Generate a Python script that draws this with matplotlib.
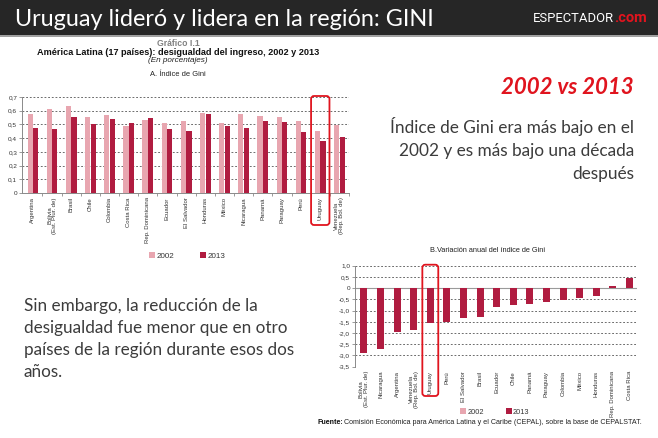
import matplotlib
matplotlib.use("Agg")
import matplotlib.pyplot as plt
from matplotlib.patches import Rectangle, FancyBboxPatch, Patch
from matplotlib.transforms import IdentityTransform
import numpy as np

# ---------------- data ----------------
countries_a = ["Argentina", "Bolivia\n(Est. Plur. de)", "Brasil", "Chile", "Colombia",
               "Costa Rica", "Rep. Dominicana", "Ecuador", "El Salvador", "Honduras",
               "México", "Nicaragua", "Panamá", "Paraguay", "Perú", "Uruguay",
               "Venezuela\n(Rep. Bol. de)"]
gini_2002 = [0.578, 0.612, 0.634, 0.554, 0.566, 0.486, 0.535, 0.510, 0.523, 0.586,
             0.513, 0.576, 0.564, 0.557, 0.523, 0.450, 0.498]
gini_2013 = [0.474, 0.469, 0.554, 0.506, 0.537, 0.510, 0.544, 0.469, 0.452, 0.574,
             0.489, 0.476, 0.527, 0.518, 0.442, 0.379, 0.406]

countries_b = ["Bolivia\n(Est. Plur. de)", "Nicaragua", "Argentina", "Venezuela\n(Rep. Bol. de)",
               "Uruguay", "Perú", "El Salvador", "Brasil", "Ecuador", "Chile", "Panamá",
               "Paraguay", "Colombia", "México", "Honduras", "Rep. Dominicana", "Costa Rica"]
var_anual = [-2.90, -2.71, -1.94, -1.85, -1.57, -1.51, -1.33, -1.30, -0.84, -0.76,
             -0.69, -0.60, -0.54, -0.46, -0.33, 0.10, 0.43]

yticks_a = [0, 0.1, 0.2, 0.3, 0.4, 0.5, 0.6, 0.7]
ytick_labels_a = ["0", "0,1", "0,2", "0,3", "0,4", "0,5", "0,6", "0,7"]
yticks_b = [1.0, 0.5, 0.0, -0.5, -1.0, -1.5, -2.0, -2.5, -3.0, -3.5]
ytick_labels_b = ["1,0", "0,5", "0", "-0,5", "-1,0", "-1,5", "-2,0", "-2,5", "-3,0", "-3,5"]
legend_labels = ["2002", "2013"]
highlight = "Uruguay"

# ---------------- style ----------------
W, H = 658, 438
LIGHT = "#e8a6b0"
DARK = "#b01c40"
RED = "#e0141e"
TXT = "#3c3c3c"
SLIDE_FONT = ["Lato", "DejaVu Sans"]
CHART_FONT = ["Liberation Sans", "DejaVu Sans"]

def fx(x):
    return x / W

def fy(y):
    return 1 - y / H

fig = plt.figure(figsize=(W / 100, H / 100), dpi=100)
fig.patch.set_facecolor("white")

# header bar
fig.add_artist(Rectangle((0, fy(35)), 1, 35 / H, transform=fig.transFigure,
                         facecolor="#262626", edgecolor="none"))
fig.add_artist(Rectangle((0, fy(37)), 1, 2 / H, transform=fig.transFigure,
                         facecolor="#a0a0a0", edgecolor="none"))
fig.text(fx(15), fy(19), "Uruguay lideró y lidera en la región: GINI", color="white",
         fontsize=16.8, va="center", ha="left", family=SLIDE_FONT)
fig.text(fx(614), fy(18), "ESPECTADOR", color="white", fontsize=9.4, va="center",
         ha="right", family=["Roboto", "DejaVu Sans"])
fig.text(fx(614), fy(18), ".com", color=RED, fontsize=10.5, va="center", ha="left",
         fontweight="bold", family=["Roboto", "DejaVu Sans"])

# chart A header
fig.text(fx(178), fy(43), "Gráfico I.1", fontsize=6.2, color="#808080", ha="center",
         va="center", fontweight="bold", family=CHART_FONT)
fig.text(fx(178), fy(52.5), "América Latina (17 países): desigualdad del ingreso, 2002 y 2013",
         fontsize=6.6, color="#111111", ha="center", va="center", fontweight="bold",
         family=CHART_FONT)
fig.text(fx(178), fy(61), "(En porcentajes)", fontsize=5.9, color="#222222", ha="center",
         va="center", fontstyle="italic", family=CHART_FONT)
fig.text(fx(178), fy(75), "A. Índice de Gini", fontsize=5.4, color="#222222", ha="center",
         va="center", family=CHART_FONT)


def style_axes(ax):
    for s in ["top", "right"]:
        ax.spines[s].set_visible(False)
    ax.spines["left"].set_color("#8a8a8a")
    ax.spines["left"].set_linewidth(0.7)
    ax.spines["bottom"].set_color("#8a8a8a")
    ax.spines["bottom"].set_linewidth(0.7)
    ax.tick_params(axis="y", length=2, width=0.6, color="#8a8a8a", labelsize=4.6,
                   labelcolor="#333333", pad=1.5)
    ax.set_axisbelow(True)
    ax.yaxis.grid(True, color="#555555", linewidth=0.6, linestyle=(0, (2.2, 2.2)))
    for lbl in ax.get_yticklabels():
        lbl.set_family(CHART_FONT)


# ---------------- chart A ----------------
axa = fig.add_axes([fx(22), fy(193), 327 / W, 96 / H])
xa = np.arange(len(countries_a))
bw = 0.27
axa.bar(xa - bw / 2 - 0.01, gini_2002, width=bw, color=LIGHT, zorder=2)
axa.bar(xa + bw / 2 + 0.01, gini_2013, width=bw, color=DARK, zorder=2)
axa.set_xlim(-0.57, len(countries_a) - 0.57)
axa.set_ylim(0, 0.7)
axa.set_yticks(yticks_a)
axa.set_yticklabels(ytick_labels_a)
style_axes(axa)
axa.set_xticks(xa)
axa.set_xticklabels(countries_a, rotation=90, fontsize=4.3, color="#333333",
                    va="top", ha="center", family=CHART_FONT, linespacing=1.0)
axa.tick_params(axis="x", which="major", length=0, pad=3)
axa.set_xticks(xa + 0.5, minor=True)
axa.tick_params(axis="x", which="minor", length=2, width=0.6, color="#8a8a8a")

leg_handles = [Patch(facecolor=LIGHT, edgecolor="none"), Patch(facecolor=DARK, edgecolor="none")]
fig.legend(leg_handles, legend_labels, loc="center", bbox_to_anchor=(fx(187), fy(256)),
           bbox_transform=fig.transFigure, ncol=2, frameon=False,
           prop={"family": CHART_FONT, "size": 5.8}, handlelength=0.75, handleheight=0.75,
           handletextpad=0.2, columnspacing=3.2, labelcolor="#333333")

# ---------------- chart B ----------------
fig.text(fx(488), fy(250), "B.Variación anual del índice de Gini", fontsize=5.3,
         color="#222222", ha="center", va="center", family=CHART_FONT)
axb = fig.add_axes([fx(355), fy(366.7), 282 / W, 101 / H])
xb = np.arange(len(countries_b))
axb.bar(xb, var_anual, width=0.42, color=DARK, zorder=2)
axb.set_xlim(-0.54, len(countries_b) - 0.54)
axb.set_ylim(-3.5, 1.0)
axb.set_yticks(yticks_b)
axb.set_yticklabels(ytick_labels_b)
style_axes(axb)
axb.spines["bottom"].set_visible(False)
axb.axhline(0, color="#9a9a9a", linewidth=0.8, zorder=1)
axb.set_xticks(xb)
axb.set_xticklabels(countries_b, rotation=90, fontsize=4.3, color="#333333",
                    va="top", ha="center", family=CHART_FONT, linespacing=1.0)
axb.tick_params(axis="x", which="major", length=0, pad=3)

fig.legend(leg_handles, legend_labels, loc="center", bbox_to_anchor=(fx(495), fy(412)),
           bbox_transform=fig.transFigure, ncol=2, frameon=False,
           prop={"family": CHART_FONT, "size": 5.3}, handlelength=0.75, handleheight=0.75,
           handletextpad=0.2, columnspacing=3.0, labelcolor="#333333")

t1 = fig.text(fx(318), fy(426), "Fuente:", fontsize=5.1, color="#111111", fontweight="bold",
              ha="left", va="bottom", family=CHART_FONT)
fig.add_artist(matplotlib.text.Annotation(
    "Comisión Económica para América Latina y el Caribe (CEPAL), sobre la base de CEPALSTAT.",
    xy=(1, 0), xycoords=t1, va="bottom", ha="left", fontsize=5.1, color="#222222",
    family=CHART_FONT))


# ---------------- highlight boxes ----------------
def highlight_box(ax, cats, bottom_px):
    idx = [c.split("\n")[0] for c in cats].index(highlight)
    x0 = ax.transData.transform((idx - 0.48, 0))[0]
    x1 = ax.transData.transform((idx + 0.48, 0))[0]
    ytop = ax.transAxes.transform((0, 1))[1] + 1
    ybot = H - bottom_px
    box = FancyBboxPatch((x0, ybot), x1 - x0, ytop - ybot,
                         boxstyle="round,pad=0,rounding_size=3", transform=IdentityTransform(),
                         facecolor="none", edgecolor=RED, linewidth=1.3, zorder=10)
    fig.add_artist(box)


highlight_box(axa, countries_a, 225)
highlight_box(axb, countries_b, 396)

# ---------------- slide texts ----------------
fig.text(fx(634), fy(94), "2002 vs 2013", color=RED, fontsize=16, fontweight="bold",
         fontstyle="italic", ha="right", va="baseline", family=SLIDE_FONT)
right_lines = ["Índice de Gini era más bajo en el", "2002 y es más bajo una década", "después"]
for i, line in enumerate(right_lines):
    fig.text(fx(634), fy(133 + 22.8 * i), line, color=TXT, fontsize=12.4, ha="right",
             va="baseline", family=SLIDE_FONT)

left_lines = ["Sin embargo, la reducción de la", "desigualdad fue menor que en otro",
              "países de la región durante esos dos", "años."]
for i, line in enumerate(left_lines):
    fig.text(fx(24), fy(311.5 + 21.7 * i), line, color=TXT, fontsize=12.3, ha="left",
             va="baseline", family=SLIDE_FONT)

fig.savefig("out.png", dpi=100)
